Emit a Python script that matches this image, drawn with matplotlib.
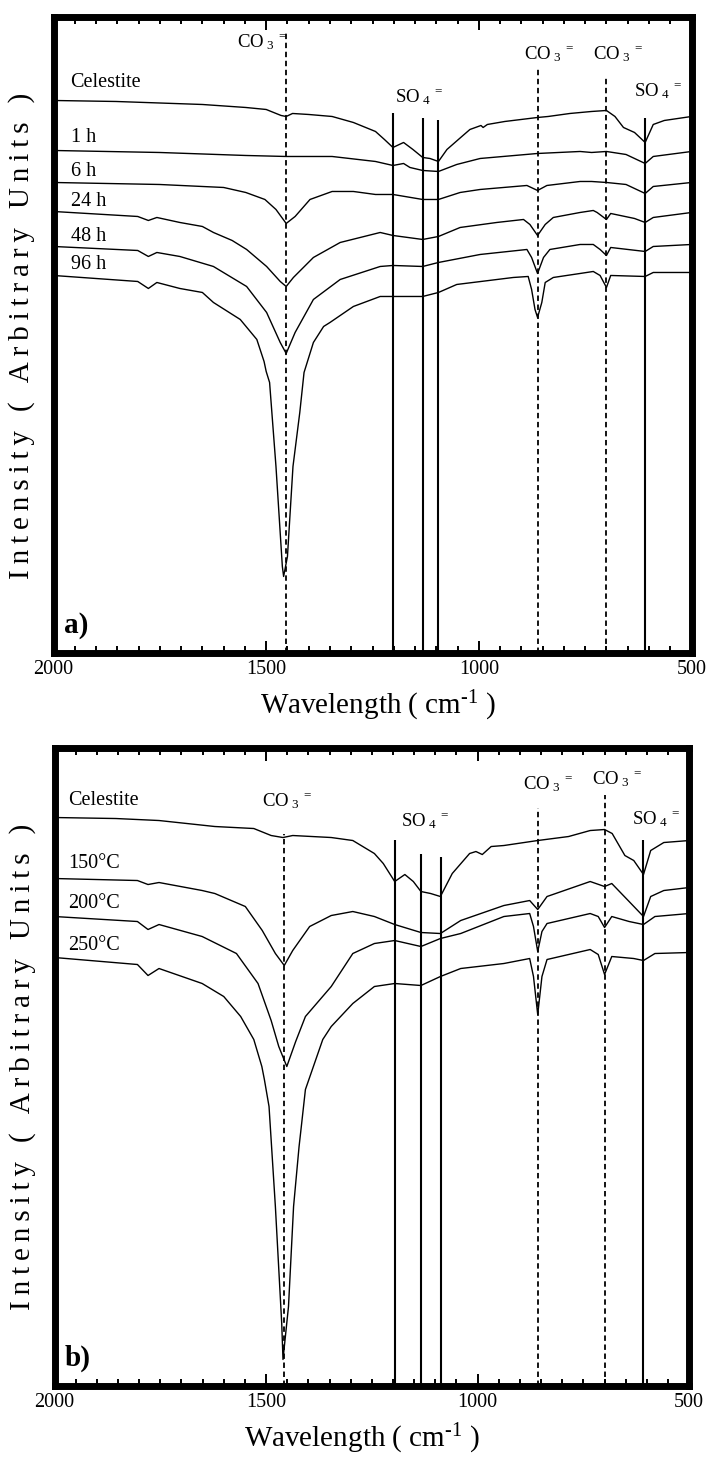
import matplotlib
matplotlib.use('Agg')
import matplotlib.pyplot as plt
from matplotlib.ticker import MultipleLocator

plt.rcParams['font.family'] = ['Liberation Serif', 'DejaVu Serif']
plt.rcParams['mathtext.fontset'] = 'custom'
plt.rcParams['mathtext.rm'] = 'Liberation Serif'
plt.rcParams['mathtext.it'] = 'Liberation Serif:italic'
plt.rcParams['mathtext.bf'] = 'Liberation Serif:bold'

# ---- panel a: time series (wavenumber, intensity in arbitrary units) ----
cel_a_wn = [2000, 1853, 1650, 1548, 1500, 1465, 1453, 1438, 1400, 1345, 1295, 1243, 1222, 1202, 1177, 1155,
            1132, 1115, 1095, 1075, 1040, 1021, 995, 990, 980, 939, 862, 837, 786, 735, 700, 680, 660, 634,
            609, 590, 564, 500]
cel_a = [553, 552, 549, 546, 544, 538, 537, 540, 539, 537, 531, 522, 514, 506, 511, 504,
         496, 495, 492, 504, 517, 524, 528, 526, 529, 532, 536, 537, 540, 542, 543, 537, 526, 521,
         511, 529, 533, 537]

h1_wn = [2000, 1751, 1548, 1453, 1345, 1243, 1202, 1177, 1162, 1132, 1095, 1052, 997, 862, 762, 735, 700,
         654, 609, 590, 500]
h1 = [503, 501, 498, 497, 497, 492, 488, 490, 486, 483, 482, 489, 495, 500, 502, 501, 502,
      499, 490, 497, 502]

h6_wn = [2000, 1751, 1600, 1548, 1503, 1477, 1453, 1432, 1397, 1345, 1295, 1243, 1202, 1132, 1095, 1044,
         997, 887, 862, 840, 762, 735, 700, 654, 609, 590, 500]
h6 = [471, 469, 466, 461, 454, 444, 430, 437, 454, 462, 462, 459, 459, 454, 454, 461,
      464, 468, 463, 468, 472, 472, 471, 469, 460, 467, 471]

h24_wn = [2000, 1802, 1777, 1757, 1703, 1650, 1624, 1580, 1546, 1499, 1467, 1453, 1436, 1389, 1326, 1232,
          1202, 1132, 1095, 1044, 958, 895, 880, 862, 844, 825, 762, 731, 722, 700, 690, 634, 609, 590, 500]
h24 = [442, 437, 433, 436, 431, 427, 421, 413, 404, 387, 372, 367, 376, 396, 411, 421,
       418, 414, 417, 426, 431, 434, 429, 418, 429, 436, 441, 443, 441, 434, 440, 435, 431, 436, 441]

h48_wn = [2000, 1802, 1777, 1757, 1703, 1624, 1546, 1499, 1467, 1453, 1432, 1389, 1326, 1232, 1202, 1132,
          1095, 997, 887, 876, 862, 848, 833, 762, 731, 715, 700, 690, 609, 590, 500]
h48 = [407, 403, 397, 401, 397, 387, 367, 341, 311, 300, 321, 354, 374, 387, 388, 387,
       391, 399, 404, 396, 380, 396, 404, 409, 409, 404, 398, 406, 402, 407, 409]

h96_wn = [2000, 1802, 1777, 1757, 1703, 1650, 1624, 1561, 1522, 1505, 1500, 1492, 1477, 1462, 1459, 1450,
          1437, 1421, 1411, 1389, 1365, 1350, 1295, 1232, 1202, 1132, 1095, 1052, 919, 884, 876, 868, 862,
          852, 844, 825, 762, 731, 715, 700, 690, 609, 590, 500]
h96 = [378, 372, 365, 371, 365, 361, 351, 334, 314, 292, 282, 271, 187, 87, 77, 97,
       187, 241, 281, 311, 327, 331, 347, 357, 357, 357, 361, 369, 376, 377, 364, 344, 336,
       351, 371, 376, 380, 382, 378, 366, 378, 377, 381, 381]

labels_a = ['Celestite', '1 h', '6 h', '24 h', '48 h', '96 h']
label_y_a = [566, 511, 477, 447, 412, 384]

# ---- panel b: temperature series ----
cel_b_wn = [2000, 1855, 1753, 1621, 1529, 1488, 1460, 1437, 1346, 1295, 1244, 1223, 1196, 1172, 1152, 1134,
            1111, 1088, 1060, 1019, 1004, 989, 968, 938, 858, 785, 734, 700, 682, 652, 631, 608, 591, 560, 500]
cel_b = [569, 568, 566, 560, 558, 551, 549, 551, 549, 546, 533, 523, 505, 512, 505, 495,
         493, 490, 513, 533, 535, 532, 540, 541, 546, 550, 556, 557, 553, 531, 526, 512, 536, 544, 546]

t150_wn = [2000, 1804, 1779, 1753, 1651, 1621, 1549, 1509, 1478, 1457, 1437, 1397, 1346, 1295, 1244, 1196,
           1134, 1088, 1040, 938, 877, 858, 836, 734, 700, 683, 642, 608, 591, 560, 500]
t150 = [508, 506, 502, 504, 496, 493, 480, 456, 433, 421, 436, 460, 471, 475, 470, 462,
        454, 453, 466, 481, 486, 477, 490, 505, 500, 503, 485, 470, 490, 496, 499]

t200_wn = [2000, 1804, 1779, 1753, 1651, 1570, 1519, 1488, 1470, 1451, 1430, 1407, 1346, 1295, 1244, 1196,
           1134, 1088, 1040, 938, 877, 868, 858, 848, 836, 734, 715, 700, 683, 642, 608, 581, 500]
t200 = [470, 465, 457, 462, 450, 433, 403, 366, 340, 320, 345, 370, 400, 433, 443, 446,
        440, 448, 453, 470, 473, 460, 435, 455, 463, 473, 470, 459, 470, 465, 462, 470, 473]

t250_wn = [2000, 1804, 1779, 1753, 1651, 1600, 1560, 1529, 1510, 1504, 1493, 1478, 1463, 1460, 1447, 1435,
           1422, 1418, 1407, 1366, 1346, 1295, 1244, 1196, 1134, 1088, 1040, 938, 877, 868, 858, 848, 836,
           734, 715, 700, 683, 631, 608, 581, 500]
t250 = [429, 422, 411, 418, 403, 390, 370, 347, 320, 307, 280, 180, 63, 27, 80, 180,
        240, 255, 297, 347, 360, 383, 400, 403, 401, 410, 418, 423, 428, 410, 372, 410, 427,
        437, 432, 412, 430, 428, 426, 433, 434]

labels_b = ['Celestite', '150°C', '200°C', '250°C']
label_y_b = [582, 519, 479, 437]

# band markers: dashed = carbonate, solid = sulfate
dash_a_wn, dash_a_top = [1453, 862, 700], [622, 584, 577]
solid_a_wn, solid_a_top = [1202, 1132, 1095, 609], [540, 535, 533, 535]
dash_b_wn, dash_b_top = [1458, 858, 700], [553, 579, 592]
solid_b_wn, solid_b_top = [1196, 1134, 1087, 608], [547, 533, 530, 547]

CO3 = r'CO$_{\ 3}{}^{\ =}$'
SO4 = r'SO$_{\ 4}{}^{\ =}$'
ions_a = [(1450, 606, CO3, 'right'), (1198, 551, SO4, 'left'), (894, 594, CO3, 'left'),
          (731, 594, CO3, 'left'), (636, 557, SO4, 'left')]
ions_b = [(1509, 580, CO3, 'left'), (1180, 560, SO4, 'left'), (892, 597, CO3, 'left'),
          (729, 602, CO3, 'left'), (634, 562, SO4, 'left')]

xticks = [2000, 1500, 1000, 500]
xticklabels = ['2000', '1500', '1000', '500']


def spaced(s):
    # the original axis title is letter-spaced
    return '\u2009'.join(s)


def setup(ax, ymax, tag, xlab_x):
    ax.set_xlim(2000, 500)
    ax.set_ylim(0, ymax)
    for sp in ax.spines.values():
        sp.set_linewidth(5.0)
    ax.set_xticks(xticks)
    ax.set_xticklabels(xticklabels)
    ax.xaxis.set_minor_locator(MultipleLocator(50))
    ax.tick_params(axis='x', which='both', direction='in', top=True, bottom=True,
                   width=1.4, labelsize=14.5, pad=5)
    ax.tick_params(axis='x', which='major', length=9)
    ax.tick_params(axis='x', which='minor', length=5)
    ax.tick_params(axis='y', left=False, right=False, labelleft=False)
    ax.text(0.016, 0.033, tag, transform=ax.transAxes, fontsize=21, fontweight='bold')
    ax.text(xlab_x, -0.095, r'Wavelength ( cm$^{\text{-1}}$ )', transform=ax.transAxes,
            ha='center', va='baseline', fontsize=21)
    ax.text(-0.05, 0.5, spaced('Intensity ( Arbitrary Units )'), transform=ax.transAxes,
            rotation=90, ha='center', va='center', fontsize=21)


fig = plt.figure(figsize=(7.06, 14.57), dpi=100)
ax_a = fig.add_axes([0.0758, 0.5515, 0.9037, 0.4365])
ax_b = fig.add_axes([0.0772, 0.0484, 0.8990, 0.4382])

for wn, y in [(cel_a_wn, cel_a), (h1_wn, h1), (h6_wn, h6), (h24_wn, h24), (h48_wn, h48), (h96_wn, h96)]:
    ax_a.plot(wn, y, color='black', lw=1.0)
for wn, y in [(cel_b_wn, cel_b), (t150_wn, t150), (t200_wn, t200), (t250_wn, t250)]:
    ax_b.plot(wn, y, color='black', lw=1.0)

for ax, dwn, dtop, swn, stop in [(ax_a, dash_a_wn, dash_a_top, solid_a_wn, solid_a_top),
                                 (ax_b, dash_b_wn, dash_b_top, solid_b_wn, solid_b_top)]:
    ax.vlines(dwn, 0, dtop, colors='black', linestyles=(0, (3, 2)), lw=1.3)
    ax.vlines(swn, 0, stop, colors='black', lw=1.5)

for lab, yy in zip(labels_a, label_y_a):
    ax_a.text(1960, yy, lab, fontsize=14.5, va='baseline')
for lab, yy in zip(labels_b, label_y_b):
    ax_b.text(1967, yy, lab, fontsize=14.5, va='baseline')

for ax, ions in [(ax_a, ions_a), (ax_b, ions_b)]:
    for x, y, s, ha in ions:
        ax.text(x, y, s, fontsize=13.5, ha=ha, va='baseline')

setup(ax_a, 636, 'a)', 0.509)
setup(ax_b, 638.5, 'b)', 0.484)

fig.savefig('out.png', dpi=100)
